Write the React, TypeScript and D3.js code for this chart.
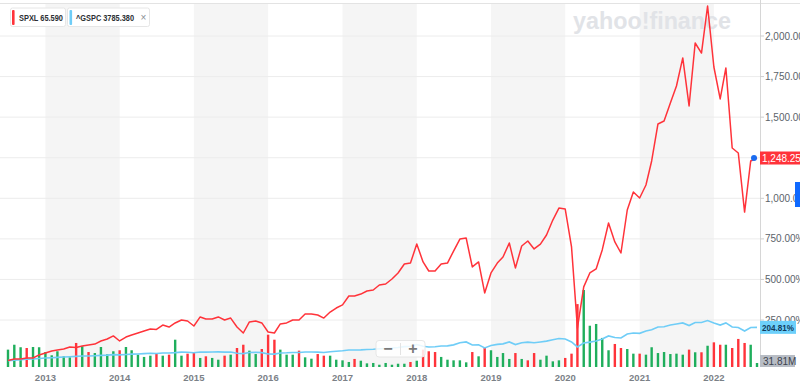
import * as d3 from "d3";

// monthly points, Jul 2012 .. Aug 2022
const months = d3.timeMonth.range(new Date(2012, 6, 1), new Date(2022, 8, 1));

// % change since start
const spxlPct = [
  0, 10, 10, 16, 16, 35, 47, 59, 65, 71,
  84, 81, 90, 96, 102, 121, 133, 152, 121, 145,
  158, 170, 182, 195, 192, 219, 207, 232, 250, 244,
  213, 269, 256, 256, 269, 250, 262, 207, 170, 238,
  244, 232, 176, 170, 226, 232, 250, 250, 287, 287,
  281, 262, 299, 324, 343, 398, 398, 410, 429, 435,
  466, 472, 503, 540, 595, 601, 718, 608, 552, 552,
  595, 601, 675, 749, 755, 577, 608, 417, 540, 601,
  638, 725, 571, 706, 737, 688, 718, 774, 866, 940,
  934, 700, 200, 454, 540, 565, 682, 848, 731, 663,
  928, 1039, 1002, 1082, 1230, 1458, 1476, 1587, 1692, 1865,
  1569, 1957, 1895, 2185, 1809, 1612, 1803, 1310, 1279, 915,
  1230, 1248.25,
];

const gspcPct = [
  0, 3, 6, 8, 10, 13, 16, 18, 20, 22,
  24, 26, 28, 28, 30, 32, 34, 37, 35, 38,
  40, 41, 43, 45, 44, 47, 47, 49, 52, 51,
  48, 53, 52, 53, 54, 52, 53, 45, 43, 50,
  51, 49, 41, 40, 47, 48, 50, 50, 53, 53,
  52, 50, 55, 58, 61, 65, 65, 66, 68, 70,
  73, 75, 78, 81, 86, 88, 99, 88, 84, 85,
  90, 91, 97, 110, 115, 96, 98, 78, 93, 100,
  103, 115, 99, 110, 114, 110, 115, 120, 129, 136,
  133, 115, 84, 108, 114, 121, 133, 152, 142, 139,
  164, 170, 168, 182, 190, 207, 209, 219, 225, 232,
  216, 235, 235, 247, 232, 219, 232, 207, 204, 182,
  204, 204.81,
];

// SPXL monthly volume, millions
const volumeM = [
  138, 177, 157, 151, 159, 157, 119, 93, 125, 85,
  77, 191, 165, 119, 111, 159, 101, 125, 133, 159,
  133, 98, 80, 90, 106, 90, 98, 217, 90, 106,
  119, 72, 85, 72, 58, 90, 98, 151, 177, 130,
  103, 143, 257, 217, 138, 98, 98, 130, 77, 66,
  103, 90, 90, 58, 53, 40, 64, 50, 29, 32,
  18, 32, 18, 26, 26, 40, 50, 138, 125, 119,
  80, 58, 53, 53, 37, 119, 85, 159, 133, 80,
  111, 64, 111, 64, 53, 111, 58, 90, 45, 53,
  72, 106, 500, 612, 328, 342, 231, 133, 183, 151,
  143, 106, 106, 98, 157, 111, 119, 103, 106, 98,
  138, 117, 117, 169, 196, 177, 177, 151, 223, 191,
  177, 31.81,
];

// 1 = up month (green), 0 = down month (red)
const volumeUp = [
  1, 1, 1, 0, 1, 1, 1, 1, 1, 1,
  1, 0, 1, 0, 1, 1, 1, 1, 0, 1,
  1, 1, 1, 1, 0, 1, 0, 1, 1, 0,
  0, 1, 0, 1, 1, 0, 1, 0, 0, 1,
  1, 0, 0, 0, 1, 1, 1, 0, 1, 1,
  0, 0, 1, 1, 1, 1, 0, 1, 1, 1,
  1, 1, 1, 1, 1, 0, 1, 0, 0, 0,
  1, 1, 1, 1, 1, 0, 1, 0, 1, 1,
  1, 1, 0, 1, 0, 0, 1, 1, 1, 1,
  0, 0, 0, 1, 1, 1, 1, 1, 0, 0,
  1, 1, 0, 1, 1, 1, 1, 1, 1, 1,
  0, 1, 0, 1, 0, 0, 1, 0, 0, 0,
  1, 1,
];

const yearTicks = [2013, 2014, 2015, 2016, 2017, 2018, 2019, 2020, 2021, 2022];
const shadedYears = [2013, 2015, 2017, 2019, 2021];
const pctTicks = [250, 500, 750, 1000, 1250, 1500, 1750, 2000];

const RED = "#ff333a";
const BLUE = "#6fcdf7";
const GREEN = "#1fae5c";
const FONT = "'Liberation Sans', Arial, sans-serif";

export default function App() {
  const W = 800;
  const H = 392;
  const axisX = 760;
  const x = d3.scaleTime().domain([months[0], months[months.length - 1]]).range([8, 757]);
  const y = d3.scaleLinear().domain([0, 2000]).range([360.6, 36]);
  const yv = d3.scaleLinear().domain([0, 612]).range([367, 290]);
  const fmt = d3.format(",.2f");

  const line = d3
    .line<number>()
    .x((_, i) => x(months[i]))
    .y((d) => y(d));

  const lastI = months.length - 1;
  const lastX = x(months[lastI]);

  return (
    <svg
      width={W}
      height={H}
      viewBox={`0 0 ${W} ${H}`}
      style={{ position: "absolute", left: 0, top: 0, background: "#fff" }}
      fontFamily={FONT}
    >
      {/* year bands */}
      {shadedYears.map((yr) => (
        <rect
          key={yr}
          x={x(new Date(yr, 0, 1))}
          y={3}
          width={x(new Date(yr + 1, 0, 1)) - x(new Date(yr, 0, 1))}
          height={364}
          fill="#f5f5f5"
        />
      ))}
      <line x1={0} x2={W} y1={3.5} y2={3.5} stroke="#e3e3e3" />

      {/* grid */}
      {pctTicks.map((t) => (
        <line key={t} x1={0} x2={axisX} y1={y(t)} y2={y(t)} stroke="#ececec" />
      ))}

      {/* watermark */}
      <text
        x={573}
        y={29}
        fontSize={23}
        fontWeight={700}
        fill="#e1e3e7"
        textLength={158}
        lengthAdjust="spacingAndGlyphs"
      >
        yahoo!finance
      </text>

      {/* volume */}
      {volumeM.map((v, i) => (
        <rect
          key={i}
          x={x(months[i]) - 1.2}
          y={yv(v)}
          width={2.4}
          height={yv(0) - yv(v)}
          fill={volumeUp[i] ? GREEN : RED}
        />
      ))}

      {/* lines */}
      <path d={line(gspcPct) ?? ""} fill="none" stroke={BLUE} strokeWidth={1.6} />
      <path d={line(spxlPct) ?? ""} fill="none" stroke={RED} strokeWidth={1.5} strokeLinejoin="round" />
      <circle cx={lastX - 3} cy={y(spxlPct[lastI])} r={3} fill="#1a6cf0" />

      {/* zoom control */}
      <g>
        <rect x={376} y={340.5} width={49} height={16.5} rx={3} fill="#fff" fillOpacity={0.85} stroke="#e6e6e6" />
        <line x1={400.5} x2={400.5} y1={343} y2={355} stroke="#e3e3e3" />
        <text x={388} y={353.5} fontSize={16} fontWeight={700} fill="#7a7a7a" textAnchor="middle">
          −
        </text>
        <text x={413} y={354} fontSize={16} fontWeight={700} fill="#7a7a7a" textAnchor="middle">
          +
        </text>
      </g>

      {/* right axis */}
      <line x1={axisX + 0.5} x2={axisX + 0.5} y1={0} y2={367} stroke="#d6d6d6" />
      {pctTicks
        .filter((t) => t !== 1250)
        .map((t) => (
          <g key={t}>
            <line x1={axisX} x2={axisX + 4} y1={y(t)} y2={y(t)} stroke="#cfcfcf" />
            <text x={axisX + 5} y={y(t) + 3.5} fontSize={10} fill="#5b636a">
              {fmt(t)}%
            </text>
          </g>
        ))}

      {/* bottom axis */}
      {yearTicks.map((yr) => (
        <text
          key={yr}
          x={x(new Date(yr, 0, 1))}
          y={380.5}
          fontSize={9.5}
          fontWeight={700}
          fill="#7b8187"
          textAnchor="middle"
        >
          {yr}
        </text>
      ))}

      {/* end labels */}
      <rect x={axisX} y={y(spxlPct[lastI]) - 6.5} width={42} height={13} fill={RED} />
      <text x={axisX + 2} y={y(spxlPct[lastI]) + 3.5} fontSize={10} fill="#fff">
        {fmt(spxlPct[lastI])}%
      </text>
      <rect x={axisX} y={y(gspcPct[lastI]) - 6.5} width={36} height={13} fill="#6dd0fb" />
      <text
        x={axisX + 2}
        y={y(gspcPct[lastI]) + 3.5}
        fontSize={9.5}
        fontWeight={700}
        fill="#123a5c"
        textLength={32}
        lengthAdjust="spacingAndGlyphs"
      >
        {fmt(gspcPct[lastI])}%
      </text>
      <rect x={axisX} y={yv(volumeM[lastI]) - 8} width={35} height={12} fill="#b8bdc5" />
      <text x={axisX + 3} y={yv(volumeM[lastI]) + 2} fontSize={10} fill="#3d434d">
        {volumeM[lastI].toFixed(2)}M
      </text>
      <rect x={795} y={182} width={6} height={25} fill="#0f69ff" />

      {/* legend */}
      <g>
        <rect x={10.5} y={8} width={55} height={18.5} rx={2} fill="#fff" stroke="#e6e6e6" />
        <rect x={12} y={10} width={2.6} height={15} rx={1} fill={RED} />
        <text x={19} y={20.8} fontSize={9.5} fontWeight={600} fill="#2b2f33" textLength={44} lengthAdjust="spacingAndGlyphs">
          SPXL 65.590
        </text>
        <rect x={67.5} y={8} width={82} height={18.5} rx={2} fill="#fff" stroke="#e6e6e6" />
        <rect x={69.5} y={10} width={2.6} height={15} rx={1} fill={BLUE} />
        <text x={76} y={20.8} fontSize={9.5} fontWeight={600} fill="#2b2f33" textLength={58} lengthAdjust="spacingAndGlyphs">
          ^GSPC 3785.380
        </text>
        <text x={143.5} y={21} fontSize={10} fill="#8a8f95" textAnchor="middle">
          ×
        </text>
      </g>
    </svg>
  );
}
